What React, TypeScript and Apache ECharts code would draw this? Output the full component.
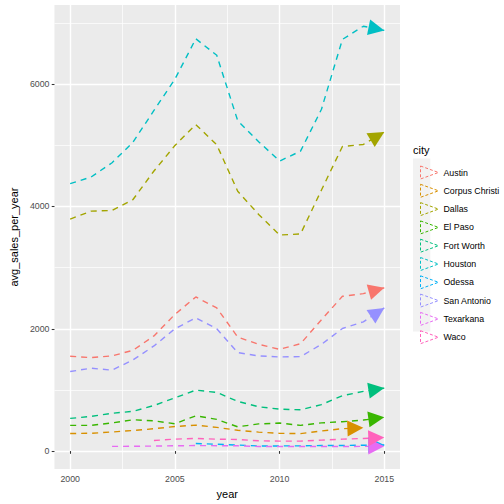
import React, { useEffect, useRef } from 'react';
import * as echarts from 'echarts';

const years = [2000, 2001, 2002, 2003, 2004, 2005, 2006, 2007, 2008, 2009, 2010, 2011, 2012, 2013, 2014, 2015];

const cities = ['Austin', 'Corpus Christi', 'Dallas', 'El Paso', 'Fort Worth', 'Houston', 'Odessa', 'San Antonio', 'Texarkana', 'Waco'];
const cityColors = ['#F8766D', '#D89000', '#A3A500', '#39B600', '#00BF7D', '#00BFC4', '#00B0F6', '#9590FF', '#E76BF3', '#FF62BC'];

// avg sales per year, one value per year (null = no data)
const austin = [1550, 1528, 1556, 1648, 1883, 2235, 2520, 2341, 1865, 1745, 1664, 1756, 2147, 2531, 2574, 2670];
const corpusChristi = [287, 291, 312, 336, 365, 401, 424, 387, 340, 310, 290, 286, 328, 366, 380, null];
const dallas = [3794, 3924, 3935, 4114, 4580, 4997, 5339, 5008, 4249, 3870, 3534, 3550, 4270, 4981, 5014, 5220];
const elPaso = [420, 420, 460, 512, 494, 447, 577, 518, 396, 444, 458, 420, 461, 480, 507, 553];
const fortWorth = [534, 567, 618, 650, 745, 870, 997, 959, 813, 725, 685, 675, 760, 905, 976, 1030];
const houston = [4374, 4482, 4715, 5052, 5570, 6081, 6743, 6472, 5403, 5060, 4743, 4905, 5590, 6732, 6948, 6880];
const odessa = [null, null, null, null, null, null, 124, 112, 98, 84, 84, 86, 90, 92, 95, 100];
const sanAntonio = [1301, 1355, 1323, 1491, 1719, 2000, 2179, 2000, 1610, 1556, 1539, 1545, 1745, 2005, 2114, 2341];
const texarkana = [null, null, 76, 78, 82, 86, 90, 88, 86, 75, 74, 74, 74, 75, 76, 78];
const waco = [null, null, null, null, 173, 195, 206, 195, 189, 168, 163, 163, 179, 195, 206, 220];

const salesByCity = [austin, corpusChristi, dallas, elPaso, fortWorth, houston, odessa, sanAntonio, texarkana, waco];

const yMajor = [0, 2000, 4000, 6000];
const yMinor = [1000, 3000, 5000, 7000];
const xMajor = [2000, 2005, 2010, 2015];
const xMinor = [2002.5, 2007.5, 2012.5];

const FONT = 'Liberation Sans, Arial, Helvetica, sans-serif';
const ARROW_W = 16;
const ARROW_H = 16;

const App: React.FC = () => {
  const chartRef = useRef<HTMLDivElement>(null);

  useEffect(() => {
    if (!chartRef.current) return undefined;
    const chart = echarts.init(chartRef.current, undefined, { renderer: 'svg' });

    const cityPoints = cities.map((_, i) =>
      years
        .map((y, j) => (salesByCity[i][j] == null ? null : [y, salesByCity[i][j] as number]))
        .filter((p): p is number[] => p !== null),
    );

    const buildSeries = (withArrows: boolean) =>
      cities.map((city, i) => {
        const points = cityPoints[i];
        const data: any[] = points.map((p) => ({ value: p, symbol: 'none' }));
        if (withArrows) {
          // closed arrow head at the last point, pointing along the last segment
          const a = chart.convertToPixel({ gridIndex: 0 }, points[points.length - 2]) as number[];
          const b = chart.convertToPixel({ gridIndex: 0 }, points[points.length - 1]) as number[];
          const dx = b[0] - a[0];
          const dy = b[1] - a[1];
          const len = Math.sqrt(dx * dx + dy * dy) || 1;
          const rot = (Math.atan2(-dy, dx) * 180) / Math.PI - 90;
          data[data.length - 1] = {
            value: points[points.length - 1],
            symbol: 'triangle',
            symbolSize: [ARROW_W, ARROW_H],
            symbolRotate: rot,
            symbolOffset: [(-dx / len) * (ARROW_H / 2), (-dy / len) * (ARROW_H / 2)],
          };
        }
        return {
          name: city,
          type: 'line',
          data,
          symbol: 'none',
          showSymbol: true,
          showAllSymbol: true,
          silent: true,
          xAxisIndex: 0,
          yAxisIndex: 0,
          color: cityColors[i],
          itemStyle: { color: cityColors[i], borderWidth: 0 },
          lineStyle: { color: cityColors[i], width: 1.4, type: [6, 5] },
        };
      });

    const axisText = { color: '#4D4D4D', fontSize: 8.8, fontFamily: FONT, formatter: (v: number) => String(v) };

    const options: any = {
      animation: false,
      backgroundColor: '#FFFFFF',
      textStyle: { fontFamily: FONT },
      grid: {
        left: 46,
        right: 104,
        top: 5,
        bottom: 33,
        show: true,
        backgroundColor: '#EBEBEB',
        borderWidth: 0,
      },
      xAxis: [
        {
          type: 'value',
          min: 1999.25,
          max: 2015.75,
          name: 'year',
          nameLocation: 'middle',
          nameGap: 16,
          nameTextStyle: { color: '#000', fontSize: 11, fontFamily: FONT },
          axisLine: { show: false },
          axisTick: { show: true, length: 2.75, lineStyle: { color: '#333333', width: 1.07 }, customValues: xMajor },
          axisLabel: { ...axisText, margin: 5, customValues: xMajor },
          splitLine: { show: true, lineStyle: { color: '#FFFFFF', width: 1.4 } },
        },
        {
          type: 'value',
          min: 1999.25,
          max: 2015.75,
          position: 'top',
          axisLine: { show: false },
          axisTick: { show: false, customValues: xMinor },
          axisLabel: { show: false, customValues: xMinor },
          splitLine: { show: true, lineStyle: { color: '#FFFFFF', width: 0.7 } },
        },
      ],
      yAxis: [
        {
          type: 'value',
          min: -295,
          max: 7295,
          name: 'avg_sales_per_year',
          nameLocation: 'middle',
          nameGap: 27,
          nameTextStyle: { color: '#000', fontSize: 11, fontFamily: FONT },
          axisLine: { show: false },
          axisTick: { show: true, length: 2.75, lineStyle: { color: '#333333', width: 1.07 }, customValues: yMajor },
          axisLabel: { ...axisText, margin: 5, customValues: yMajor },
          splitLine: { show: true, lineStyle: { color: '#FFFFFF', width: 1.4 } },
        },
        {
          type: 'value',
          min: -295,
          max: 7295,
          position: 'right',
          axisLine: { show: false },
          axisTick: { show: false, customValues: yMinor },
          axisLabel: { show: false, customValues: yMinor },
          splitLine: { show: true, lineStyle: { color: '#FFFFFF', width: 0.7 } },
        },
      ],
      legend: {
        orient: 'vertical',
        left: 415,
        top: 160.5,
        itemWidth: 18,
        itemHeight: 13,
        itemGap: 4.3,
        selectedMode: false,
        textStyle: { color: '#000', fontSize: 8.8, fontFamily: FONT },
        data: cities.map((city, i) => ({
          name: city,
          icon: 'path://M0,0 L18,6.5 L0,13 Z',
          itemStyle: { color: 'transparent', borderColor: cityColors[i], borderWidth: 1, borderType: [3, 2] },
        })),
      },
      graphic: [
        {
          type: 'rect',
          shape: { x: 413, y: 158.5, width: 17.3, height: 173 },
          style: { fill: '#F2F2F2' },
          z: -1,
          silent: true,
        },
        {
          type: 'text',
          x: 413,
          y: 150,
          style: { text: 'city', fill: '#000', font: `11px ${FONT}`, textVerticalAlign: 'middle' },
          silent: true,
        },
      ],
      series: buildSeries(false),
    };

    chart.setOption(options);
    chart.setOption({ series: buildSeries(true) });

    return () => {
      chart.dispose();
    };
  }, []);

  return <div ref={chartRef} style={{ position: 'fixed', left: 0, top: 0, width: '504px', height: '504px' }} />;
};

export default App;
